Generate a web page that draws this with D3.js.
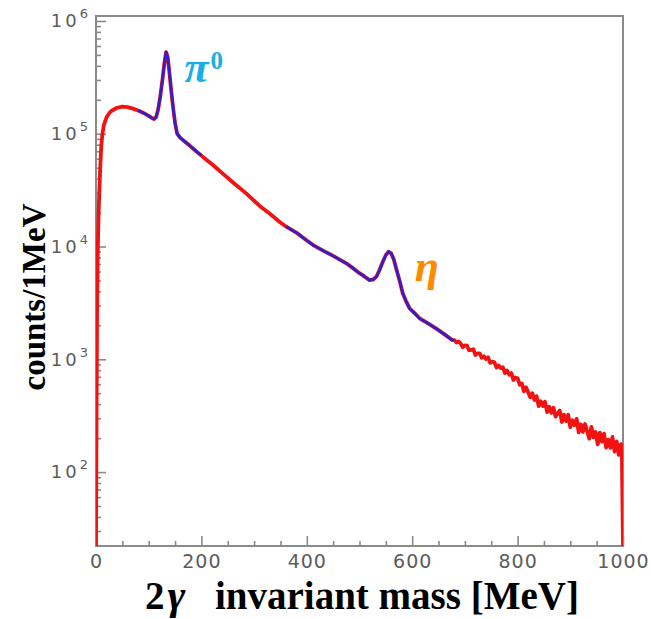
<!DOCTYPE html>
<html>
<head>
<meta charset="utf-8">
<script src="https://cdn.jsdelivr.net/npm/d3@7"></script>
<style>
  body { margin: 0; background: #fff; }
</style>
</head>
<body>
<div class="visHolder"></div>
<script>
const w = 651, h = 619;

// 2-gamma invariant mass spectrum (MeV, counts per MeV)
const mass = [
  0, 1, 2, 3, 4, 5, 6, 8, 10, 12, 15, 20, 25, 30, 40, 50, 60, 70, 80, 90,
  100, 105, 110, 114, 118, 122, 126, 130, 133, 136, 139, 142, 146, 150, 154, 160, 170, 180, 190, 200,
  210, 222, 240, 260, 285, 310, 330, 348, 361, 380, 400, 412, 430, 450, 475, 490, 500, 510, 519, 526,
  532, 538, 544, 550, 555, 560, 565, 570, 576, 582, 588, 595, 605, 614, 630, 645, 660, 676,
  680, 684, 688, 692, 696, 700, 704, 708, 712, 716, 720, 724, 728, 732, 736, 740, 744, 748, 752, 756,
  760, 764, 768, 772, 776, 780, 784, 788, 792, 796, 800, 804, 808, 812, 816, 820, 824, 828, 832, 836,
  840, 844, 848, 852, 856, 860, 864, 868, 872, 876, 880, 884, 888, 892, 896, 900, 904, 908, 912, 916,
  920, 924, 928, 932, 936, 940, 944, 948, 952, 956, 960, 964, 968, 972, 976, 980, 984, 988, 992, 996,
  998, 1000
];
const counts = [
  22, 300, 2500, 7000, 13000, 20000, 28000, 50000, 78000, 98000, 120000, 140000, 152000, 160000, 170000, 174000, 172000, 167000, 161000, 153000,
  144000, 139000, 135000, 140000, 165000, 215000, 300000, 430000, 530000, 480000, 360000, 260000, 175000, 125000, 100000, 92000, 84000, 77000, 70000, 64000,
  58500, 52800, 44500, 37000, 29600, 23000, 19500, 16600, 15000, 13300, 11300, 10300, 9250, 8250, 7100, 6300, 5800, 5400, 5040, 5100,
  5400, 6200, 7300, 8400, 9000, 8700, 7700, 6300, 5000, 3850, 3300, 2830, 2550, 2310, 2080, 1880, 1680, 1480,
  1480, 1410, 1440, 1380, 1280, 1330, 1320, 1200, 1210, 1230, 1090, 1130, 1130, 1030, 1065, 1005, 1040, 930, 955, 940,
  845, 880, 835, 850, 755, 795, 730, 755, 655, 690, 680, 595, 610, 520, 565, 510, 460, 500, 435, 470,
  385, 425, 385, 420, 340, 380, 335, 372, 310, 332, 352, 278, 323, 283, 322, 250, 288, 260, 296, 225,
  265, 227, 267, 230, 198, 251, 203, 227, 176, 224, 186, 219, 165, 194, 164, 205, 152, 187, 142, 177,
  131, 22
];

// mass windows where the fitted curve (blue) sits on top of the data
const fitRanges = [[78, 200], [360, 680]];

const xTicks = [0, 200, 400, 600, 800, 1000];
const xMinor = [50, 100, 150, 250, 300, 350, 450, 500, 550, 650, 700, 750, 850, 900, 950];
const yExponents = [2, 3, 4, 5, 6];
const yDomain = [22.1, 1.107e6];

const peakLabels = [
  { text: '\u03c0', sup: '0', m: 168, c: 2.9e5, color: '#19aee6' },
  { text: '\u03b7', sup: '', m: 605, c: 4.9e3, color: '#ff8a00' }
];

const plot = { left: 96, right: 623, top: 16, bottom: 546 };

const svg = d3.select('.visHolder')
  .append('svg')
  .attr('width', w)
  .attr('height', h)
  .style('background', '#fff');

const xScale = d3.scaleLinear()
  .domain([0, 1000])
  .range([plot.left, plot.right]);

const yScale = d3.scaleLog()
  .domain(yDomain)
  .range([plot.bottom, plot.top]);

svg.append('clipPath')
  .attr('id', 'plot-clip')
  .append('rect')
  .attr('x', plot.left)
  .attr('y', plot.top)
  .attr('width', plot.right - plot.left)
  .attr('height', plot.bottom - plot.top);

// frame
svg.append('rect')
  .attr('x', plot.left)
  .attr('y', plot.top)
  .attr('width', plot.right - plot.left)
  .attr('height', plot.bottom - plot.top)
  .attr('fill', 'none')
  .attr('stroke', '#8a8a8a')
  .attr('stroke-width', 2);

// x axis
const xAxis = svg.append('g')
  .attr('id', 'x-axis')
  .attr('transform', `translate(0, ${plot.bottom})`)
  .call(d3.axisBottom(xScale).tickValues(xTicks).tickSize(-10).tickPadding(9).tickFormat(d3.format('d')));

svg.append('g')
  .attr('transform', `translate(0, ${plot.bottom})`)
  .call(d3.axisBottom(xScale).tickValues(xMinor).tickSize(-5).tickFormat(''))
  .attr('class', 'minor');

// y axis
const yMajor = yExponents.map(e => Math.pow(10, e));
const yMinor = [];
[1, 2, 3, 4, 5].forEach(e => {
  for (let k = 2; k <= 9; k++) {
    const v = k * Math.pow(10, e);
    if (v > yDomain[0] && v < yDomain[1]) yMinor.push(v);
  }
});

const yAxis = svg.append('g')
  .attr('id', 'y-axis')
  .attr('transform', `translate(${plot.left}, 0)`)
  .call(d3.axisLeft(yScale).tickValues(yMajor).tickSize(-10).tickPadding(8).tickFormat(''));

svg.append('g')
  .attr('transform', `translate(${plot.left}, 0)`)
  .call(d3.axisLeft(yScale).tickValues(yMinor).tickSize(-5).tickFormat(''))
  .attr('class', 'minor');

svg.selectAll('.domain').remove();
svg.selectAll('.tick line')
  .attr('stroke', '#8a8a8a')
  .attr('stroke-width', 1.6);

xAxis.selectAll('text')
  .attr('fill', '#5c5c5c')
  .attr('font-family', '"DejaVu Sans", sans-serif')
  .attr('font-size', 19)
  .attr('letter-spacing', 1);

yAxis.selectAll('.tick text')
  .attr('fill', '#5c5c5c')
  .attr('font-family', '"DejaVu Sans", sans-serif')
  .attr('font-size', 18)
  .each(function(d) {
    const t = d3.select(this);
    t.append('tspan').attr('letter-spacing', 3).text('10');
    t.append('tspan')
      .attr('dy', -9)
      .attr('font-size', 13)
      .text(Math.round(Math.log10(d)));
  });

// data and fit
const line = d3.line()
  .x(d => xScale(d[0]))
  .y(d => yScale(d[1]));

const points = mass.map((m, i) => [m, counts[i]]);

const curves = svg.append('g').attr('clip-path', 'url(#plot-clip)');

curves.append('path')
  .datum(points)
  .attr('fill', 'none')
  .attr('stroke', '#f21212')
  .attr('stroke-width', 3.8)
  .attr('stroke-linejoin', 'round')
  .attr('d', line);

fitRanges.forEach(r => {
  curves.append('path')
    .datum(points.filter(p => p[0] >= r[0] && p[0] <= r[1]))
    .attr('fill', 'none')
    .attr('stroke', '#2c1fcc')
    .attr('stroke-width', 2.6)
    .attr('stroke-linejoin', 'round')
    .attr('d', line);
});

// peak labels
peakLabels.forEach(p => {
  const t = svg.append('text')
    .attr('x', xScale(p.m))
    .attr('y', yScale(p.c))
    .attr('fill', p.color)
    .attr('font-family', '"Liberation Serif", "Times New Roman", serif')
    .attr('font-weight', 'bold')
    .attr('font-size', 44);
  t.append('tspan').attr('font-style', 'italic').text(p.text);
  if (p.sup) {
    t.append('tspan')
      .attr('dy', -13)
      .attr('dx', 2)
      .attr('font-size', 25)
      .text(p.sup);
  }
});

// axis titles
const xTitle = svg.append('text')
  .attr('x', 145)
  .attr('y', 609)
  .attr('fill', '#000')
  .attr('font-family', '"Liberation Serif", "Times New Roman", serif')
  .attr('font-weight', 'bold')
  .attr('font-size', 39);
xTitle.append('tspan').text('2');
xTitle.append('tspan').attr('dx', 3).attr('font-style', 'italic').attr('font-size', 43).text('\u03b3');
xTitle.append('tspan').attr('x', 215).text('invariant mass [MeV]');

svg.append('text')
  .attr('transform', 'translate(45, 297) rotate(-90)')
  .attr('text-anchor', 'middle')
  .attr('fill', '#000')
  .attr('font-family', '"Liberation Serif", "Times New Roman", serif')
  .attr('font-weight', 'bold')
  .attr('font-size', 33)
  .text('counts/1MeV');
</script>
</body>
</html>
